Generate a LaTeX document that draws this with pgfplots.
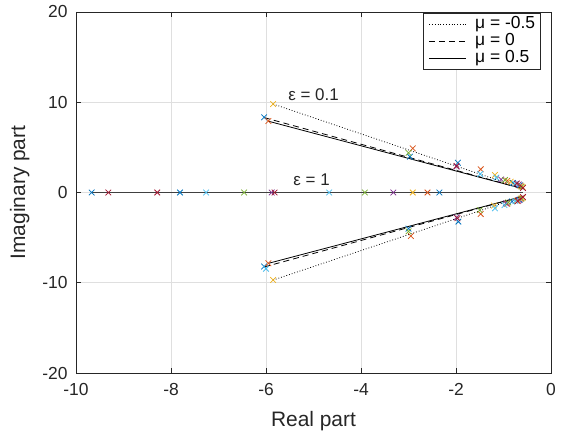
\documentclass[border=0pt]{standalone}
\usepackage{fontspec}
\setmainfont{Liberation Sans}
\usepackage{pgfplots}
\pgfplotsset{compat=1.18}
\usetikzlibrary{calc}
\definecolor{mblue}{HTML}{0072BD}
\definecolor{morange}{HTML}{D95319}
\definecolor{myellow}{HTML}{EDB120}
\definecolor{mpurple}{HTML}{7E2F8E}
\definecolor{mgreen}{HTML}{77AC30}
\definecolor{mcyan}{HTML}{4DBEEE}
\definecolor{mred}{HTML}{A2142F}
\definecolor{axisgray}{HTML}{262626}
\definecolor{gridgray}{HTML}{DFDFDF}

\begin{document}
\begin{tikzpicture}
\begin{axis}[
  scale only axis,
  width=475bp, height=361bp,
  xmin=-10, xmax=0, ymin=-20, ymax=20,
  xtick={-10,-8,-6,-4,-2,0},
  xticklabels={-10,-8,-6,-4,-2,0},
  ytick={-20,-10,0,10,20},
  yticklabels={-20,-10,0,10,20},
  tick align=inside,
  major tick length=5bp,
  tick style={axisgray, line width=0.6bp},
  axis line style={axisgray, line width=0.7bp},
  xmajorgrids, ymajorgrids,
  grid style={gridgray, line width=0.6bp},
  tick label style={font=\fontsize{17.5}{17.5}\selectfont, text=axisgray},
  xticklabel style={yshift=-7bp},
  yticklabel style={xshift=-5bp},
  label style={font=\fontsize{21}{21}\selectfont, text=axisgray},
  xlabel style={yshift=-9bp},
  ylabel style={yshift=6bp},
  xlabel={Real part},
  ylabel={Imaginary part},
  legend cell align=left,
  legend style={
    at={(rel axis cs:0.979,0.997)}, anchor=north east,
    draw=axisgray, line width=0.6bp,
    font=\fontsize{17.5}{17.5}\selectfont,
    nodes={inner sep=0.6bp, text height=11.5bp, text depth=3bp},
    row sep=1.2bp, inner xsep=5bp, inner ysep=3bp,
  },
  legend image code/.code={\draw[#1, line width=0.8bp] (0bp,0bp) -- (37bp,0bp); \path (45bp,0bp);},
  mark size=4bp,
]
% mu lines, upper branch (with legend)
\addplot[black, line width=0.8bp, dotted] coordinates {(-5.85,9.8) (-0.58,0.4)};
\addlegendentry{μ = -0.5}
\addplot[black, line width=0.8bp, dash pattern=on 6bp off 4bp] coordinates {(-6.04,8.3) (-0.58,0.4)};
\addlegendentry{μ = 0}
\addplot[black, line width=0.8bp] coordinates {(-5.95,7.9) (-0.58,0.4)};
\addlegendentry{μ = 0.5}
% lower branch
\addplot[black, line width=0.8bp, dotted, forget plot] coordinates {(-5.85,-9.7) (-0.58,-0.4)};
\addplot[black, line width=0.8bp, dash pattern=on 6bp off 4bp, forget plot] coordinates {(-6.04,-8.25) (-0.58,-0.4)};
\addplot[black, line width=0.8bp, forget plot] coordinates {(-5.95,-7.85) (-0.58,-0.4)};
% real axis (eps = 1)
\addplot[black!75, line width=0.8bp, dotted, forget plot] coordinates {(-9.67,0) (-0.58,0)};
\addplot[black!75, line width=0.8bp, dash pattern=on 6bp off 4bp, forget plot] coordinates {(-9.67,0) (-0.58,0)};
\addplot[black!75, line width=0.8bp, forget plot] coordinates {(-9.67,0) (-0.58,0)};

% eigenvalue markers
\addplot[only marks, mark=x, mblue, line width=0.75bp, forget plot] coordinates {
(-9.67,0) (-7.81,0) (-2.35,0)
(-6.04,8.33) (-2.97,3.97) (-1.96,3.3) (-0.80,1.05) (-0.66,0.8)
(-6.04,-8.2) (-3.0,-4.0) (-1.95,-3.23) (-0.82,-1.0) (-0.66,-0.8)
};
\addplot[only marks, mark=x, morange, line width=0.75bp, forget plot] coordinates {
(-2.60,0)
(-5.95,7.92) (-2.91,4.89) (-1.48,2.57) (-0.92,1.3) (-0.64,0.75)
(-5.95,-7.84) (-2.95,-4.82) (-1.48,-2.38) (-0.92,-1.25) (-0.64,-0.72)
};
\addplot[only marks, mark=x, myellow, line width=0.75bp, forget plot] coordinates {
(-2.91,0)
(-5.85,9.8) (-1.18,1.94) (-0.85,1.2) (-0.6,0.6)
(-5.85,-9.69) (-1.2,-1.45) (-0.72,-0.9) (-0.6,-0.6)
};
\addplot[only marks, mark=x, mpurple, line width=0.75bp, forget plot] coordinates {
(-5.88,0) (-3.32,0)
(-1.99,2.86) (-1.05,1.45) (-0.68,0.9)
(-1.99,-2.75) (-0.95,-1.2) (-0.68,-0.85)
};
\addplot[only marks, mark=x, mgreen, line width=0.75bp, forget plot] coordinates {
(-6.46,0) (-3.92,0)
(-3.0,4.4) (-0.97,1.38) (-0.62,0.65)
(-1.5,-1.95) (-3.0,-4.3) (-0.9,-1.1) (-0.62,-0.65)
};
\addplot[only marks, mark=x, mcyan, line width=0.75bp, forget plot] coordinates {
(-7.26,0) (-4.67,0)
(-1.49,2.05) (-1.15,1.65) (-0.75,0.95)
(-6.0,-8.45) (-1.18,-1.75) (-0.98,-1.4) (-0.75,-0.95)
};
\addplot[only marks, mark=x, mred, line width=0.75bp, forget plot] coordinates {
(-9.32,0) (-8.29,0) (-5.82,0)
(-1.99,2.95) (-0.72,1.0) (-0.59,0.5)
(-1.97,-2.85) (-0.7,-0.95) (-0.59,-0.5)
};

\node[font=\fontsize{17}{17}\selectfont, text=axisgray] at (axis cs:-5.0,10.8) {ε = 0.1};
\node[font=\fontsize{17}{17}\selectfont, text=axisgray] at (axis cs:-5.04,1.38) {ε = 1};
\end{axis}
\useasboundingbox ($(current axis.south west)+(-76bp,-66bp)$) rectangle ($(current axis.north east)+(11bp,12bp)$);
\end{tikzpicture}
\end{document}
